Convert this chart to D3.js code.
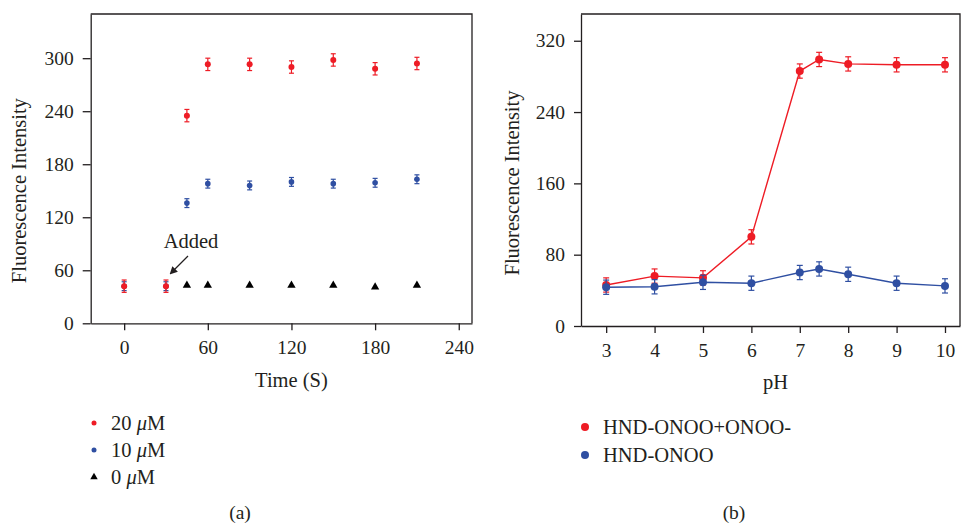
<!DOCTYPE html>
<head>
<meta charset="utf-8">
<script src="https://d3js.org/d3.v7.min.js"></script>
<style>
  body { margin: 0; background: #fff; }
  svg { font-family: "Liberation Serif", serif; }
</style>
</head>
<body>
<svg width="961" height="526"></svg>
<script>

// panel (a): time course
let timeX = [0, 30, 45, 60, 90, 120, 150, 180, 210];
let red20 = [42, 42, 235, 293, 293, 290, 298, 288, 294];
let red20Err = [7, 7, 7, 7, 7, 7, 7, 7, 7];
let blue10 = [42, 42, 136, 158, 156, 160, 158, 159, 163];
let blue10Err = [5, 5, 5, 5, 5, 5, 5, 5, 5];
let timeX0 = [45, 60, 90, 120, 150, 180, 210];
let black0 = [43, 43, 43, 43, 43, 41, 43];
let timeTicks = [0, 60, 120, 180, 240];
let intTicksA = [0, 60, 120, 180, 240, 300];

// panel (b): pH
let pH = [3, 4, 5, 6, 7, 7.4, 8, 9, 10];
let onooPlus = [46, 56, 54, 100, 286, 299, 294, 293, 293];
let onooPlusErr = [8, 8, 8, 8, 8, 8, 8, 8, 8];
let onoo = [43.5, 44, 49, 48, 60, 64, 58, 48, 45];
let onooErr = [8, 8, 8, 8, 8, 8, 8, 8, 8];
let pHTicks = [3, 4, 5, 6, 7, 8, 9, 10];
let intTicksB = [0, 80, 160, 240, 320];

let red = "#ee1c25", blue = "#2f4fa2", ink = "#231f20";
let tickFont = 19.5, labelFont = 20.5;

let svg = d3.select("svg");

svg.append("defs").append("marker")
    .attr("id", "arrow")
    .attr("viewBox", "0 0 10 10")
    .attr("refX", 2).attr("refY", 5)
    .attr("markerWidth", 6).attr("markerHeight", 6)
    .attr("orient", "auto-start-reverse")
  .append("path")
    .attr("d", "M0,0L10,5L0,10z")
    .attr("fill", ink);

function styleAxis(g) {
  g.selectAll("path, line").attr("stroke", ink).attr("stroke-width", 1.3);
  g.selectAll("text").attr("fill", ink).attr("font-size", tickFont)
    .attr("font-family", "Liberation Serif, serif");
}

function errorBars(g, xs, ys, errs, x, y, color, cap) {
  let sel = g.append("g").attr("stroke", color).attr("stroke-width", 1.2)
    .selectAll("g").data(xs).enter().append("g");
  sel.append("line")
      .attr("x1", d => x(d)).attr("x2", d => x(d))
      .attr("y1", (d, i) => y(ys[i] - errs[i])).attr("y2", (d, i) => y(ys[i] + errs[i]));
  sel.append("line")
      .attr("x1", d => x(d) - cap).attr("x2", d => x(d) + cap)
      .attr("y1", (d, i) => y(ys[i] + errs[i])).attr("y2", (d, i) => y(ys[i] + errs[i]));
  sel.append("line")
      .attr("x1", d => x(d) - cap).attr("x2", d => x(d) + cap)
      .attr("y1", (d, i) => y(ys[i] - errs[i])).attr("y2", (d, i) => y(ys[i] - errs[i]));
}

function dots(g, xs, ys, x, y, color, r) {
  g.append("g").selectAll("circle").data(xs).enter().append("circle")
      .attr("cx", d => x(d)).attr("cy", (d, i) => y(ys[i]))
      .attr("r", r).attr("fill", color);
}

// ---------- panel (a)
let xA = d3.scaleLinear().domain([-24, 249.5]).range([90.7, 472]);
let yA = d3.scaleLinear().domain([0, 350]).range([323.3, 14]);

let gA = svg.append("g");

gA.append("g")
    .attr("transform", "translate(0," + yA(0) + ")")
    .call(d3.axisBottom(xA).tickValues(timeTicks).tickSize(7).tickSizeOuter(0).tickPadding(10))
    .call(styleAxis);
gA.append("g")
    .attr("transform", "translate(" + xA.range()[0] + ",0)")
    .call(d3.axisLeft(yA).tickValues(intTicksA).tickSize(8).tickSizeOuter(0).tickPadding(9))
    .call(styleAxis);
gA.append("path")
    .attr("d", "M" + xA.range()[0] + "," + yA(350) + "H" + xA.range()[1] + "V" + yA(0))
    .attr("fill", "none").attr("stroke", ink).attr("stroke-width", 1.3);

gA.append("g").selectAll("path").data(timeX0).enter().append("path")
    .attr("transform", (d, i) => "translate(" + xA(d) + "," + yA(black0[i]) + ")")
    .attr("d", d3.symbol(d3.symbolTriangle, 30))
    .attr("fill", "#000");

errorBars(gA, timeX, blue10, blue10Err, xA, yA, blue, 2.5);
dots(gA, timeX, blue10, xA, yA, blue, 2.8);
errorBars(gA, timeX, red20, red20Err, xA, yA, red, 2.5);
dots(gA, timeX, red20, xA, yA, red, 3);

gA.append("text")
    .attr("x", 191).attr("y", 248)
    .attr("text-anchor", "middle").attr("font-size", labelFont).attr("fill", ink)
    .text("Added");
gA.append("line")
    .attr("x1", 188).attr("y1", 256).attr("x2", 174).attr("y2", 270)
    .attr("stroke", ink).attr("stroke-width", 1.3)
    .attr("marker-end", "url(#arrow)");

gA.append("text")
    .attr("transform", "translate(26," + ((yA(0) + yA(350)) / 2 + 22) + ")rotate(-90)")
    .attr("text-anchor", "middle").attr("font-size", labelFont).attr("fill", ink)
    .text("Fluorescence Intensity");
gA.append("text")
    .attr("x", (xA(0) + xA(240)) / 2).attr("y", 387)
    .attr("text-anchor", "middle").attr("font-size", labelFont).attr("fill", ink)
    .text("Time (S)");

let legA = [
  {label: "20 ", color: red, shape: "dot"},
  {label: "10 ", color: blue, shape: "dot"},
  {label: "0 ", color: "#000", shape: "tri"}
];
let legAg = gA.append("g").selectAll("g").data(legA).enter().append("g")
    .attr("transform", (d, i) => "translate(94," + (423 + i * 27) + ")");
legAg.filter(d => d.shape === "dot").append("circle").attr("r", 2.5).attr("fill", d => d.color);
legAg.filter(d => d.shape === "tri").append("path")
    .attr("d", d3.symbol(d3.symbolTriangle, 24)).attr("fill", "#000");
let legAt = legAg.append("text").attr("x", 17).attr("dy", "0.35em")
    .attr("font-size", labelFont).attr("fill", ink);
legAt.append("tspan").text(d => d.label);
legAt.append("tspan").attr("font-style", "italic").text("\u03bc");
legAt.append("tspan").text("M");

gA.append("text")
    .attr("x", 240).attr("y", 519)
    .attr("text-anchor", "middle").attr("font-size", tickFont).attr("fill", ink)
    .text("(a)");

// ---------- panel (b)
let xB = d3.scaleLinear().domain([2.48, 10.31]).range([581, 960]);
let yB = d3.scaleLinear().domain([0, 350]).range([326, 14]);

let gB = svg.append("g");

gB.append("g")
    .attr("transform", "translate(0," + yB(0) + ")")
    .call(d3.axisBottom(xB).tickValues(pHTicks).tickSize(7).tickSizeOuter(0).tickPadding(10))
    .call(styleAxis);
gB.append("g")
    .attr("transform", "translate(" + xB.range()[0] + ",0)")
    .call(d3.axisLeft(yB).tickValues(intTicksB).tickSize(7).tickSizeOuter(0).tickPadding(9))
    .call(styleAxis);
gB.append("path")
    .attr("d", "M" + xB.range()[0] + "," + yB(350) + "H" + xB.range()[1] + "V" + yB(0))
    .attr("fill", "none").attr("stroke", ink).attr("stroke-width", 1.3);

let lineB = (ys) => d3.line().x(d => xB(d)).y((d, i) => yB(ys[i]))(pH);

gB.append("path").attr("d", lineB(onooPlus))
    .attr("fill", "none").attr("stroke", red).attr("stroke-width", 1.4);
errorBars(gB, pH, onooPlus, onooPlusErr, xB, yB, red, 3);
dots(gB, pH, onooPlus, xB, yB, red, 4);

gB.append("path").attr("d", lineB(onoo))
    .attr("fill", "none").attr("stroke", blue).attr("stroke-width", 1.4);
errorBars(gB, pH, onoo, onooErr, xB, yB, blue, 3);
dots(gB, pH, onoo, xB, yB, blue, 4);

gB.append("text")
    .attr("transform", "translate(519," + ((yB(0) + yB(350)) / 2 + 13) + ")rotate(-90)")
    .attr("text-anchor", "middle").attr("font-size", labelFont).attr("fill", ink)
    .text("Fluorescence Intensity");
gB.append("text")
    .attr("x", (xB(3) + xB(10)) / 2).attr("y", 389)
    .attr("text-anchor", "middle").attr("font-size", labelFont).attr("fill", ink)
    .text("pH");

let legB = [
  {label: "HND-ONOO+ONOO-", color: red},
  {label: "HND-ONOO", color: blue}
];
let legBg = gB.append("g").selectAll("g").data(legB).enter().append("g")
    .attr("transform", (d, i) => "translate(585," + (427 + i * 28) + ")");
legBg.append("circle").attr("r", 4).attr("fill", d => d.color);
legBg.append("text").attr("x", 18).attr("dy", "0.35em")
    .attr("font-size", labelFont).attr("fill", ink).text(d => d.label);

gB.append("text")
    .attr("x", 734).attr("y", 519)
    .attr("text-anchor", "middle").attr("font-size", tickFont).attr("fill", ink)
    .text("(b)");

</script>
</body>
